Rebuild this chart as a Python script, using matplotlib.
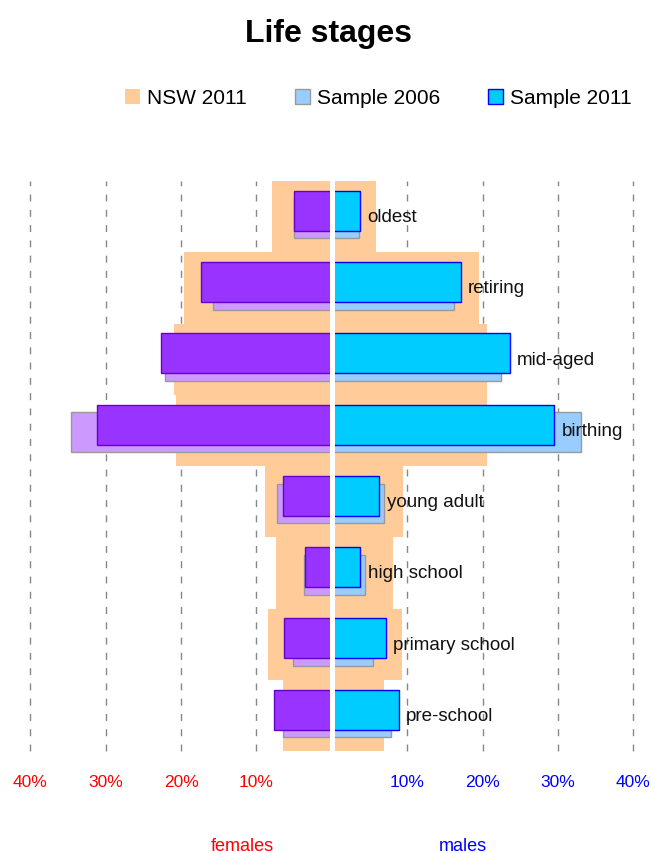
import matplotlib
matplotlib.use("Agg")
import matplotlib.pyplot as plt
import numpy as np

plt.rcParams['font.family'] = ['Liberation Sans', 'DejaVu Sans']

# life stages, bottom to top
categories = ['pre-school', 'primary school', 'high school', 'young adult',
              'birthing', 'mid-aged', 'retiring', 'oldest']

# percentages (females drawn to the left)
nsw_f = [6.5, 8.5, 7.4, 8.9, 20.7, 21.0, 19.6, 8.0]
s06_f = [6.45, 5.1, 3.7, 7.3, 34.6, 22.1, 15.8, 5.0]
s11_f = [7.65, 6.4, 3.5, 6.5, 31.1, 22.6, 17.4, 5.0]

nsw_m = [6.9, 9.3, 8.1, 9.4, 20.6, 20.6, 19.5, 5.8]
s06_m = [7.8, 5.5, 4.4, 6.9, 33.1, 22.5, 16.2, 3.6]
s11_m = [8.9, 7.2, 3.8, 6.3, 29.5, 23.6, 17.1, 3.7]

tick_vals = [-40, -30, -20, -10, 10, 20, 30, 40]
tick_labels = ['40%', '30%', '20%', '10%', '10%', '20%', '30%', '40%']

y = np.arange(len(categories))
neg = lambda v: -np.asarray(v)

fig = plt.figure(figsize=(6.51, 8.54), dpi=100)
ax = fig.add_axes([30.3 / 651, 102 / 854, 603 / 651, 570 / 854])

# background population
ax.barh(y, neg(nsw_f), height=1.0, color='#FFCC99', lw=0, zorder=1)
ax.barh(y, nsw_m, height=1.0, color='#FFCC99', lw=0, zorder=1, label='NSW 2011')

# sample 2006 (shifted down)
ax.barh(y - 0.027, neg(s06_f), height=0.56, color='#CC99FF', edgecolor='#999999',
        lw=1, zorder=2)
ax.barh(y - 0.027, s06_m, height=0.56, color='#99CCFF', edgecolor='#999999',
        lw=1, zorder=2, label='Sample 2006')

# sample 2011 (shifted up)
ax.barh(y + 0.08, neg(s11_f), height=0.56, color='#9933FF', edgecolor='#6600CC',
        lw=1, zorder=3)
ax.barh(y + 0.08, s11_m, height=0.56, color='#00CCFF', edgecolor='#0000FF',
        lw=1, zorder=3, label='Sample 2011')

# dashed guide lines
for t in tick_vals:
    ax.axvline(t, color='#888888', lw=1, dashes=(5, 6), zorder=0, clip_on=False)

# white divider in the middle
ax.axvline(0, color='white', lw=3.6, zorder=5)

for yi, v, name in zip(y, s11_m, categories):
    ax.annotate(name, (v, yi), xytext=(5.3, 0), textcoords='offset points',
                va='center', ha='left', fontsize=13.5, color='#111111', zorder=6)

ax.set_xlim(-40, 40)
ax.set_ylim(-0.5, len(categories) - 0.5)
ax.set_yticks([])
ax.set_xticks(tick_vals)
ax.set_xticklabels(tick_labels, fontsize=12.5)
for lbl, t in zip(ax.get_xticklabels(), tick_vals):
    lbl.set_color('red' if t < 0 else 'blue')
ax.tick_params(axis='x', length=0, pad=16.5)
for s in ax.spines.values():
    s.set_visible(False)

fig.text(328.8 / 651, 1 - 41.7 / 854, 'Life stages', ha='center', va='baseline',
         fontsize=23, fontweight='bold')

h, l = ax.get_legend_handles_labels()
fig.legend(h, l, loc='center', bbox_to_anchor=(378.5 / 651, 1 - 99 / 854), ncol=3,
           frameon=False, fontsize=15, handlelength=0.7, handleheight=0.7,
           handletextpad=0.35, columnspacing=2.3, borderaxespad=0)

fig.text(242.7 / 651, 0.004, 'females', ha='center', va='baseline', fontsize=13,
         color='red')
fig.text(463 / 651, 0.004, 'males', ha='center', va='baseline', fontsize=13,
         color='blue')

fig.savefig('out.png', dpi=100)
